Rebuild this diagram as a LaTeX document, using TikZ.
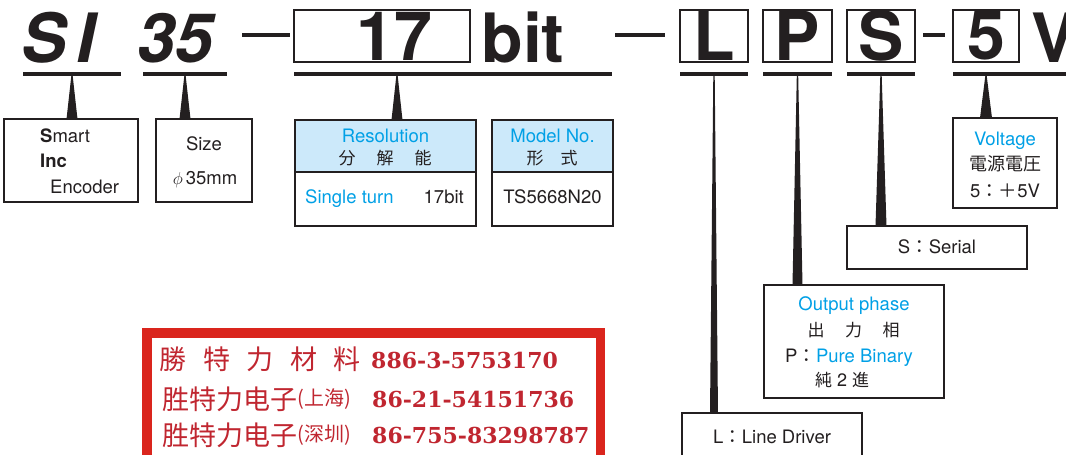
\documentclass[tikz,border=0pt]{standalone}
\usepackage{fontspec}
\setmainfont{TeX Gyre Heros}
\newfontfamily\cjk{Noto Sans CJK JP}
\newfontfamily\cjksc{Noto Sans CJK SC}
\newfontfamily\numserif{DejaVu Serif}
\usetikzlibrary{calc}
\definecolor{cyanT}{RGB}{0,160,230}
\definecolor{hdr}{RGB}{204,233,250}
\definecolor{redB}{RGB}{218,37,29}
\definecolor{redT}{RGB}{192,38,48}
\definecolor{ink}{RGB}{35,31,32}
\newcommand\mkspike[3]{\fill[ink] ($(#1)+(-0.7,0)$) -- ($(#1)+(0.7,0)$) -- ($(#2)+(#3,0)$) -- ($(#2)+(-#3,0)$) -- cycle;}
\begin{document}
\begin{tikzpicture}[x=1pt,y=-1pt,
 big/.style={font=\fontsize{68}{68}\selectfont\bfseries, inner sep=0pt, text=ink},
 bigit/.style={font=\fontsize{68}{68}\selectfont\bfseries\itshape, inner sep=0pt, text=ink, anchor=base},
 topbox/.style={big, draw=ink, line width=1.3pt, minimum height=52pt, outer sep=0pt},
 bar/.style={fill=ink, inner sep=0pt, outer sep=0pt, minimum height=3.8pt},
 infobox/.style={draw=ink, line width=1.2pt, inner sep=0pt, outer sep=0pt, anchor=north west, fill=white},
 hdrbox/.style={infobox, path picture={\fill[hdr] (path picture bounding box.north west) rectangle ([yshift=-52pt]path picture bounding box.north east);}},
 txt/.style={font=\fontsize{18.5}{18.5}\selectfont, inner sep=0pt, text=ink, anchor=base},
 bluetxt/.style={txt, text=cyanT},
 cj/.style={font=\fontsize{17}{17}\selectfont\cjk, inner sep=0pt, text=ink},
 redcj/.style={font=\fontsize{27}{27}\selectfont\cjksc, text=redT, inner sep=0pt},
 redsm/.style={font=\fontsize{20}{20}\selectfont\cjksc, text=redT, inner sep=0pt},
 rednum/.style={font=\fontsize{22}{22}\selectfont\numserif\bfseries, text=redT, inner sep=0pt, anchor=base west},
]
\useasboundingbox (0,0) rectangle (1066,455);
\clip (0,0) rectangle (1066,455);

% ---------- top code row ----------
\node[bigit] (tS) at (44,62) {S};
\node[bigit] (tI) at (86,62) {I};
\node[bigit] (t35) at (175,62) {35};
\node[bar, minimum width=48pt, minimum height=4.5pt] (d1) at (266,35) {};
\node[topbox, minimum width=176pt] (b17) at (382,36) {};
\node[big, anchor=base] (t17) at (394,60.5) {17};
\node[big, anchor=base] (tbit) at (523,62) {bit};
\node[bar, minimum width=50pt, minimum height=4.5pt] (d2) at (640,35) {};
\node[topbox, minimum width=68pt] (bL) at (714,36) {L};
\node[topbox, minimum width=69pt] (bP) at (797.5,36) {P};
\node[topbox, minimum width=68pt] (bS) at (881,36) {S};
\node[bar, minimum width=22pt, minimum height=4.5pt] (d3) at (934,35) {};
\node[topbox, minimum width=66pt] (b5) at (986,36) {5};
\node[big, anchor=base west] (tV) at (1031,62) {V};

% underlines
\node[bar, minimum width=98pt] (uSI) at (72,74) {};
\node[bar, minimum width=84pt] (u35) at (185,74) {};
\node[bar, minimum width=318pt] (u17) at (453,74) {};
\node[bar, minimum width=68pt] (uL) at (714,74) {};
\node[bar, minimum width=69pt] (uP) at (797.5,74) {};
\node[bar, minimum width=68pt] (uS) at (881,74) {};
\node[bar, minimum width=120pt] (u5) at (1013,74) {};
\coordinate (pRes) at (397,74);
\coordinate (p5) at (986,74);

% ---------- description boxes ----------
\node[infobox, minimum width=134pt, minimum height=83pt] (bSmart) at (4,119) {};
\node[txt, anchor=base west] at (40,142) {\textbf{S}mart};
\node[txt, anchor=base west] at (40,167) {\textbf{Inc}};
\node[txt, anchor=base west] at (50,193) {Encoder};

\node[infobox, minimum width=96pt, minimum height=83pt] (bSize) at (156,119) {};
\node[txt] at (204,150) {Size};
\node[txt] at (205,184) {$\phi$\,35mm};

\node[hdrbox, minimum width=181pt, minimum height=106pt] (bRes) at (295,120) {};
\draw[ink, line width=1.2pt] ($(bRes.north west)+(0,52)$) -- ($(bRes.north east)+(0,52)$);
\node[bluetxt] at (385.5,142) {Resolution};
\node[cj] at (347,158) {分};
\node[cj] at (385,158) {解};
\node[cj] at (423,158) {能};
\node[bluetxt, anchor=base west] at (305,203) {Single turn};
\node[txt, anchor=base east] at (464,203) {17bit};

\node[hdrbox, minimum width=121pt, minimum height=106pt] (bModel) at (492,120) {};
\draw[ink, line width=1.2pt] ($(bModel.north west)+(0,52)$) -- ($(bModel.north east)+(0,52)$);
\node[bluetxt] at (552.5,142) {Model No.};
\node[cj] at (535,158) {形};
\node[cj] at (569,158) {式};
\node[txt] at (552.5,203) {TS5668N20};

\node[infobox, minimum width=104pt, minimum height=90pt] (bVolt) at (953,118) {};
\node[bluetxt] at (1005,145) {Voltage};
\node[cj, font=\fontsize{18}{18}\selectfont\cjk] at (1005,164) {電源電圧};
\node[txt] at (1005,197) {5{\cjk ：＋}5V};

\node[infobox, minimum width=180pt, minimum height=43pt] (bSer) at (847,226) {};
\node[txt] at (937,253) {S{\cjk ：}Serial};

\node[infobox, minimum width=180pt, minimum height=113pt] (bOut) at (764,285) {};
\node[bluetxt] at (854,310) {Output phase};
\node[cj] at (816,330) {出};
\node[cj] at (853.5,330) {力};
\node[cj] at (891,330) {相};
\node[txt, anchor=base west] at (785,362) {P{\cjk ：}\textcolor{cyanT}{Pure Binary}};
\node[cj] at (842,380) {純\hspace{5pt}{\fontsize{18}{18}\selectfont\rmfamily 2}\hspace{5pt}進};

\node[infobox, minimum width=180pt, minimum height=70pt] (bLine) at (682,413) {};
\node[txt] at (772,443) {L{\cjk ：}Line Driver};

% ---------- pointers ----------
\mkspike{uSI.south}{uSI.south |- bSmart.north}{5.5}
\mkspike{u35.south}{u35.south |- bSize.north}{5.5}
\mkspike{pRes |- u17.south}{pRes |- bRes.north}{5.5}
\mkspike{uL.south}{uL.south |- bLine.north}{4}
\mkspike{uP.south}{uP.south |- bOut.north}{5}
\mkspike{uS.south}{uS.south |- bSer.north}{5.5}
\mkspike{p5 |- u5.south}{p5 |- bVolt.north}{6}

% ---------- red contact box ----------
\node[draw=redB, line width=9.5pt, inner sep=0pt, outer sep=0pt, anchor=north west, minimum width=453.75pt, minimum height=160pt] (red) at (146.75,332.75) {};
\node[redcj] at (173,359) {勝};
\node[redcj] at (216.5,359) {特};
\node[redcj] at (260,359) {力};
\node[redcj] at (303.5,359) {材};
\node[redcj] at (347,359) {料};
\node[rednum] at (371,368) {886-3-5753170};
\node[redcj, anchor=west] (r2) at (162,399) {胜特力电子};
\node[redsm, anchor=west] at (r2.east) {(上海)};
\node[rednum] at (372,407) {86-21-54151736};
\node[redcj, anchor=west] (r3) at (162,435) {胜特力电子};
\node[redsm, anchor=west] at (r3.east) {(深圳)};
\node[rednum] at (372,443) {86-755-83298787};
\end{tikzpicture}
\end{document}
